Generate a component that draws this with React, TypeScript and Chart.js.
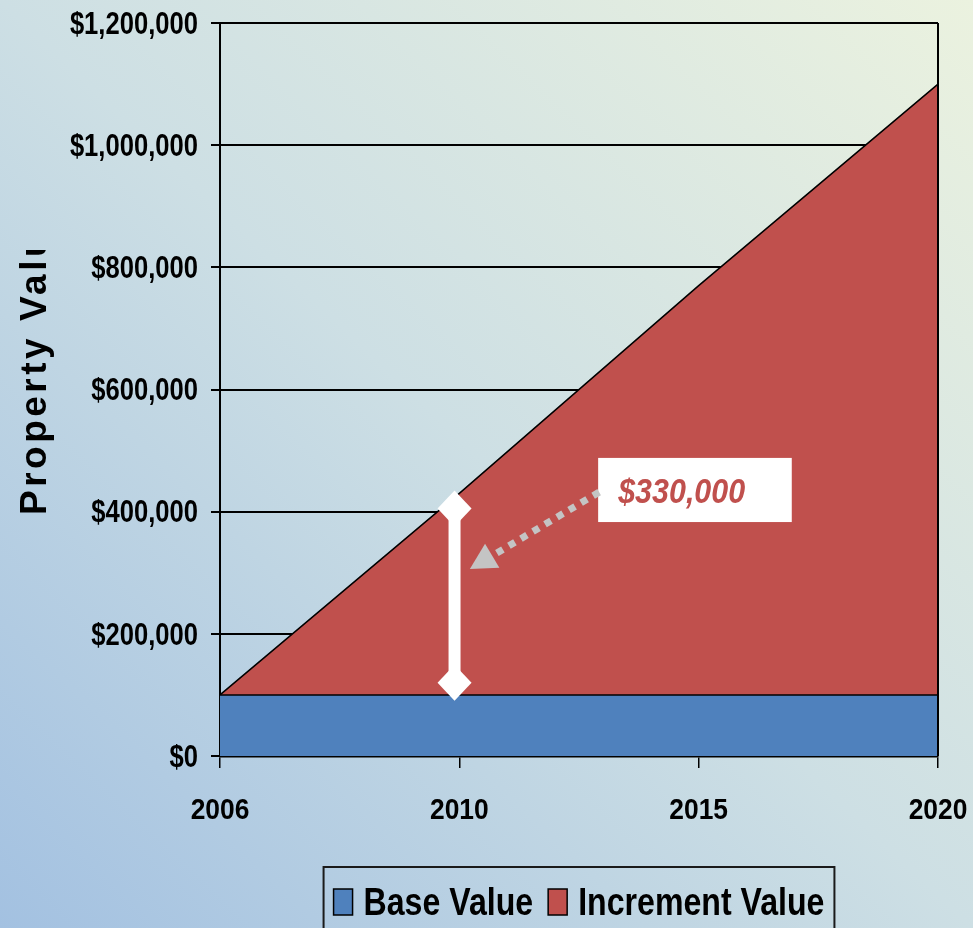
import React, { useEffect, useRef } from "react";
import { Chart, registerables } from "chart.js";

Chart.register(...registerables);

// ---- data ----
const years = ["2006", "2010", "2015", "2020"];
const baseValue = [100000, 100000, 100000, 100000];
const incrementValue = [0, 330000, 670000, 1000000];
const seriesLabels = ["Base Value", "Increment Value"];
const seriesColors = ["#4f81bd", "#c0504d"];
const yMax = 1200000;
const yStep = 200000;
const axisTitle = "Property Value";
// callout: white range marker at 2010 and the label of its increment
const calloutIndex = 1;
const markerRange = [120000, 405000];
const calloutText = "$" + incrementValue[calloutIndex].toLocaleString("en-US");

const FONT = "'Liberation Sans', Arial, sans-serif";

const fmt = (v: number) => "$" + Number(v).toLocaleString("en-US");

function condensed(ctx: any, text: string, x: number, y: number, sx: number) {
  ctx.save();
  ctx.translate(x, y);
  ctx.scale(sx, 1);
  ctx.fillText(text, 0, 0);
  ctx.restore();
}

const overlayPlugin = {
  id: "overlay",
  afterDatasetsDraw(chart: any) {
    const { ctx, chartArea: ca } = chart;
    const x = chart.scales.x;
    const y = chart.scales.y;
    ctx.save();
    // right border of plot
    ctx.strokeStyle = "#000";
    ctx.lineWidth = 2;
    ctx.beginPath();
    ctx.moveTo(ca.right, ca.top);
    ctx.lineTo(ca.right, ca.bottom);
    ctx.stroke();

    // white range marker
    const mx = x.getPixelForValue(calloutIndex - 0.02);
    const y1 = y.getPixelForValue(markerRange[1]);
    const y0 = y.getPixelForValue(markerRange[0]);
    ctx.strokeStyle = "#fff";
    ctx.fillStyle = "#fff";
    ctx.lineWidth = 12;
    ctx.beginPath();
    ctx.moveTo(mx, y1);
    ctx.lineTo(mx, y0);
    ctx.stroke();
    const diamond = (cx: number, cy: number) => {
      ctx.beginPath();
      ctx.moveTo(cx, cy - 18);
      ctx.lineTo(cx + 17, cy);
      ctx.lineTo(cx, cy + 18);
      ctx.lineTo(cx - 17, cy);
      ctx.closePath();
      ctx.fill();
    };
    diamond(mx, y1);
    diamond(mx, y0);

    // label box
    const bx0 = x.getPixelForValue(calloutIndex + 0.58);
    const bx1 = x.getPixelForValue(calloutIndex + 1.389);
    const by0 = y.getPixelForValue(488000);
    const by1 = y.getPixelForValue(383000);
    ctx.fillStyle = "#fff";
    ctx.fillRect(bx0, by0, bx1 - bx0, by1 - by0);
    ctx.fillStyle = seriesColors[1];
    ctx.font = `italic bold 35px ${FONT}`;
    ctx.textBaseline = "alphabetic";
    ctx.textAlign = "left";
    condensed(ctx, calloutText, bx0 + 20, (by0 + by1) / 2 + 13, 0.87);

    // dotted arrow
    const sx = bx0 + 1;
    const sy = y.getPixelForValue(432000);
    const tx = x.getPixelForValue(calloutIndex + 0.044);
    const ty = y.getPixelForValue(306000);
    const ang = Math.atan2(ty - sy, tx - sx);
    const headLen = 26;
    const ex = tx - Math.cos(ang) * headLen;
    const ey = ty - Math.sin(ang) * headLen;
    ctx.strokeStyle = "#c4c4c4";
    ctx.fillStyle = "#c4c4c4";
    ctx.lineWidth = 7;
    ctx.setLineDash([7, 7]);
    ctx.beginPath();
    ctx.moveTo(sx, sy);
    ctx.lineTo(ex, ey);
    ctx.stroke();
    ctx.setLineDash([]);
    const hw = 14;
    ctx.beginPath();
    ctx.moveTo(tx, ty);
    ctx.lineTo(ex + Math.sin(ang) * hw, ey - Math.cos(ang) * hw);
    ctx.lineTo(ex - Math.sin(ang) * hw, ey + Math.cos(ang) * hw);
    ctx.closePath();
    ctx.fill();
    ctx.restore();
  },
  afterDraw(chart: any) {
    const { ctx, chartArea: ca } = chart;
    const x = chart.scales.x;
    const y = chart.scales.y;
    ctx.save();
    ctx.fillStyle = "#000";

    // y tick labels (condensed bold)
    ctx.font = `bold 32px ${FONT}`;
    ctx.textAlign = "right";
    ctx.textBaseline = "middle";
    y.ticks.forEach((t: any, i: number) => {
      condensed(ctx, fmt(t.value), ca.left - 22, y.getPixelForTick(i) + 2, 0.8);
    });

    // x tick labels
    ctx.font = `bold 30px ${FONT}`;
    ctx.textAlign = "center";
    ctx.textBaseline = "alphabetic";
    x.ticks.forEach((t: any, i: number) => {
      condensed(ctx, years[i], x.getPixelForTick(i), ca.bottom + 63, 0.88);
    });

    // y axis title (clipped like the original)
    ctx.save();
    ctx.beginPath();
    ctx.rect(0, 250, 90, 600);
    ctx.clip();
    ctx.translate(46, 515);
    ctx.rotate(-Math.PI / 2);
    ctx.font = `bold 37px ${FONT}`;
    (ctx as any).letterSpacing = "3.5px";
    ctx.textAlign = "left";
    ctx.textBaseline = "alphabetic";
    ctx.fillText(axisTitle, 0, 0);
    ctx.restore();

    // boxed legend
    const LS = 0.845;
    ctx.font = `bold 38px ${FONT}`;
    ctx.textAlign = "left";
    ctx.textBaseline = "alphabetic";
    const sw = 19, sh = 26, gapS = 11, gapI = 15, padX = 10;
    const items = chart.data.datasets.map((d: any) => ({
      label: d.label,
      color: d.backgroundColor,
      w: ctx.measureText(d.label).width * LS,
    }));
    const total =
      padX * 2 + items.reduce((a: number, it: any) => a + sw + gapS + it.w, 0) + gapI * (items.length - 1);
    const cx = (ca.left + ca.right) / 2;
    const left = cx - total / 2;
    const top = ca.bottom + 111;
    ctx.strokeStyle = "#1a1a1a";
    ctx.lineWidth = 2;
    ctx.strokeRect(left, top, total, 100);
    let px = left + padX;
    const base = top + 48;
    for (const it of items) {
      ctx.fillStyle = it.color;
      ctx.fillRect(px, base - sh, sw, sh);
      ctx.strokeStyle = "#000";
      ctx.lineWidth = 1.5;
      ctx.strokeRect(px, base - sh, sw, sh);
      px += sw + gapS;
      ctx.fillStyle = "#000";
      condensed(ctx, it.label, px, base, LS);
      px += it.w + gapI;
    }
    ctx.restore();
  },
};

export default function App() {
  const ref = useRef<HTMLCanvasElement | null>(null);
  useEffect(() => {
    if (!ref.current) return;
    const chart = new Chart(ref.current, {
      type: "line",
      data: {
        labels: years,
        datasets: [
          {
            label: seriesLabels[0],
            data: baseValue,
            backgroundColor: seriesColors[0],
            borderColor: "#000",
            borderWidth: 1.5,
            fill: "origin",
            pointRadius: 0,
          },
          {
            label: seriesLabels[1],
            data: incrementValue,
            backgroundColor: seriesColors[1],
            borderColor: "#000",
            borderWidth: 1.5,
            fill: "-1",
            pointRadius: 0,
          },
        ],
      },
      options: {
        animation: false,
        responsive: false,
        layout: { padding: { top: 23, right: 35, left: 0, bottom: 0 } },
        plugins: { legend: { display: false }, tooltip: { enabled: false } },
        elements: { line: { tension: 0 } },
        scales: {
          x: {
            type: "category",
            offset: false,
            grid: { drawOnChartArea: false, color: "#000", lineWidth: 1.5, tickLength: 12 },
            border: { color: "#000", width: 2.5 },
            ticks: { display: false, autoSkip: false },
            afterFit: (s: any) => {
              s.height = 172;
            },
          },
          y: {
            stacked: true,
            min: 0,
            max: yMax,
            grid: { color: "#000", lineWidth: 2, tickLength: 9 },
            border: { color: "#000", width: 2 },
            ticks: { display: false, stepSize: yStep },
            afterFit: (s: any) => {
              s.width = 220;
            },
          },
        },
      },
      plugins: [overlayPlugin],
    });
    return () => chart.destroy();
  }, []);
  return (
    <div
      style={{
        position: "fixed",
        left: 0,
        top: 0,
        width: 973,
        height: 928,
        background: "linear-gradient(to top right, #a3c1e1 0%, #cddfe4 50%, #ebf2df 100%)",
      }}
    >
      <canvas ref={ref} width={973} height={928} style={{ display: "block" }} />
    </div>
  );
}
